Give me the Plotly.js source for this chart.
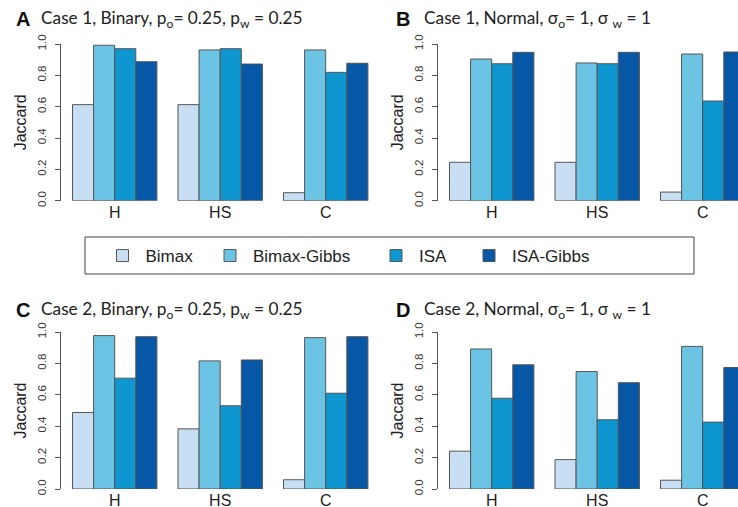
<!DOCTYPE html>
<html>
<head>
<meta charset="utf-8">
<script src="https://cdn.plot.ly/plotly-3.0.1.min.js"></script>
<style>html,body{margin:0;padding:0;background:#fff;}#chart{width:738px;height:507px;}</style>
</head>
<body>
<div id="chart"></div>
<script>
// ---- data ----
var methods = ['Bimax', 'Bimax-Gibbs', 'ISA', 'ISA-Gibbs'];
var categories = ['H', 'HS', 'C'];
var colors = ['#c8dff3', '#6cc4e4', '#0d96cf', '#0657a6'];

// Panel A: Case 1, Binary
var caseA_bimax      = [0.613, 0.613, 0.051];
var caseA_bimaxGibbs = [0.992, 0.962, 0.962];
var caseA_isa        = [0.970, 0.970, 0.819];
var caseA_isaGibbs   = [0.887, 0.872, 0.877];

// Panel B: Case 1, Normal
var caseB_bimax      = [0.245, 0.245, 0.055];
var caseB_bimaxGibbs = [0.904, 0.879, 0.936];
var caseB_isa        = [0.874, 0.874, 0.636];
var caseB_isaGibbs   = [0.947, 0.947, 0.949];

// Panel C: Case 2, Binary
var caseC_bimax      = [0.487, 0.383, 0.059];
var caseC_bimaxGibbs = [0.977, 0.816, 0.964];
var caseC_isa        = [0.706, 0.530, 0.610];
var caseC_isaGibbs   = [0.970, 0.822, 0.970];

// Panel D: Case 2, Normal
var caseD_bimax      = [0.241, 0.187, 0.056];
var caseD_bimaxGibbs = [0.892, 0.748, 0.908];
var caseD_isa        = [0.578, 0.441, 0.426];
var caseD_isaGibbs   = [0.791, 0.677, 0.774];

var yTickVals = [0, 0.2, 0.4, 0.6, 0.8, 1.0];
var yTickText = ['0.0', '0.2', '0.4', '0.6', '0.8', '1.0'];

var panels = [
  {series: [caseA_bimax, caseA_bimaxGibbs, caseA_isa, caseA_isaGibbs], letter: 'A',
   title: 'Case 1, Binary, p<sub>o</sub>= 0.25, p<sub>w</sub> = 0.25'},
  {series: [caseB_bimax, caseB_bimaxGibbs, caseB_isa, caseB_isaGibbs], letter: 'B',
   title: 'Case 1, Normal, σ<sub>o</sub>= 1, σ <sub>w</sub> = 1'},
  {series: [caseC_bimax, caseC_bimaxGibbs, caseC_isa, caseC_isaGibbs], letter: 'C',
   title: 'Case 2, Binary, p<sub>o</sub>= 0.25, p<sub>w</sub> = 0.25'},
  {series: [caseD_bimax, caseD_bimaxGibbs, caseD_isa, caseD_isaGibbs], letter: 'D',
   title: 'Case 2, Normal, σ<sub>o</sub>= 1, σ <sub>w</sub> = 1'}
];

// ---- layout geometry (pixels) ----
var W = 738, H = 507;
function px(x) { return x / W; }
function py(y) { return 1 - y / H; }

var colLeft = [61, 438];          // y-axis line positions
var colRight = [372, 738];
var rowTop = [44, 332];           // value 1.0
var rowBot = [200.7, 489];        // value 0.0
var unit = 105.5;                 // px per category
var leftOffset = -0.509;

var legendItemX = [99.5, 207, 373, 466];
var legendNames = ['legend', 'legend2', 'legend3', 'legend4'];

var traces = [];
panels.forEach(function (p, i) {
  var sfx = i === 0 ? '' : String(i + 1);
  p.series.forEach(function (vals, j) {
    traces.push({
      type: 'bar',
      name: methods[j],
      x: categories,
      y: vals,
      xaxis: 'x' + sfx,
      yaxis: 'y' + sfx,
      marker: {color: colors[j], line: {color: '#555555', width: 1}},
      showlegend: i === 0,
      legend: legendNames[j],
      hoverinfo: 'x+y+name'
    });
  });
});

var layout = {
  width: W, height: H,
  margin: {l: 0, r: 0, t: 0, b: 0},
  paper_bgcolor: '#ffffff',
  plot_bgcolor: 'rgba(0,0,0,0)',
  barmode: 'group',
  bargap: 0.2,
  bargroupgap: 0,
  font: {family: 'Liberation Sans, Arial, sans-serif', color: '#222'},
  annotations: [],
  shapes: [{
    type: 'rect', xref: 'paper', yref: 'paper',
    x0: px(85), x1: px(694), y0: py(274), y1: py(237),
    line: {color: '#444', width: 1}, fillcolor: 'rgba(0,0,0,0)'
  }]
};

panels.forEach(function (p, i) {
  var col = i % 2, row = Math.floor(i / 2);
  var sfx = i === 0 ? '' : String(i + 1);
  var l = colLeft[col], r = colRight[col];
  layout['xaxis' + sfx] = {
    type: 'category',
    domain: [px(l), px(r)],
    range: [leftOffset, leftOffset + (r - l) / unit],
    anchor: 'y' + sfx,
    showline: false, showgrid: false, zeroline: false,
    ticks: '', automargin: false,
    tickfont: {size: 16, color: '#222', family: 'Liberation Sans, Arial, sans-serif'},
    fixedrange: true
  };
  layout['yaxis' + sfx] = {
    domain: [py(rowBot[row]), py(rowTop[row])],
    range: [0, 1],
    anchor: 'x' + sfx,
    tickvals: yTickVals, ticktext: yTickText,
    tickangle: -90,
    ticks: 'outside', ticklen: 5, tickcolor: '#555', tickwidth: 1,
    showline: true, linecolor: '#555', linewidth: 1,
    showgrid: false, zeroline: false, automargin: false,
    tickfont: {size: 11.5, color: '#333', family: 'Liberation Sans, Arial, sans-serif'},
    ticklabelstandoff: 4,
    fixedrange: true
  };
  var midY = (rowTop[row] + rowBot[row]) / 2;
  layout.annotations.push({
    text: 'Jaccard', xref: 'paper', yref: 'paper',
    x: px(l - 41), y: py(midY), xanchor: 'center', yanchor: 'middle',
    textangle: -90, showarrow: false,
    font: {size: 16, color: '#222', family: 'Liberation Sans, Arial, sans-serif'}
  });
  var titleY = row === 0 ? 19.5 : 310;
  layout.annotations.push({
    text: '<b>' + p.letter + '</b>', xref: 'paper', yref: 'paper',
    x: px(col === 0 ? 14 : 394), y: py(titleY), xanchor: 'left', yanchor: 'middle',
    showarrow: false,
    font: {size: 20, color: '#111', family: 'Liberation Sans, Arial, sans-serif'}
  });
  layout.annotations.push({
    text: p.title, xref: 'paper', yref: 'paper',
    x: px(col === 0 ? 39 : 422), y: py(titleY), xanchor: 'left', yanchor: 'middle',
    showarrow: false,
    font: {size: 17.3, color: '#222', family: 'Lato, sans-serif'}
  });
});

legendNames.forEach(function (ln, j) {
  layout[ln] = {
    x: px(legendItemX[j]), y: py(256), xanchor: 'left', yanchor: 'middle',
    orientation: 'h', bgcolor: 'rgba(0,0,0,0)', borderwidth: 0,
    itemwidth: 36,
    font: {size: 17, color: '#222', family: 'Liberation Sans, Arial, sans-serif'}
  };
});

Plotly.newPlot('chart', traces, layout, {displayModeBar: false, staticPlot: true});
</script>
</body>
</html>
